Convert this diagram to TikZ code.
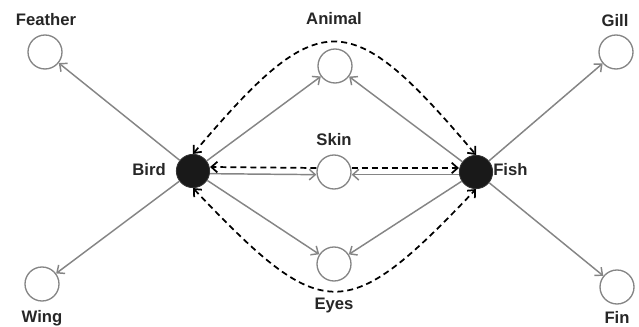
\documentclass[tikz,border=0pt]{standalone}
\usepackage{fontspec}
\setmainfont{Liberation Sans}
\usetikzlibrary{arrows.meta,calc}
\definecolor{lgray}{HTML}{858585}
\begin{document}
\begin{tikzpicture}[x=0.75pt,y=-0.75pt,
  leaf/.style={circle,draw=lgray,line width=1pt,fill=white,minimum size=25.5pt,inner sep=0pt},
  hub/.style={circle,draw=black!80,fill=black!90,line width=0.6pt,minimum size=25pt,inner sep=0pt},
  lbl/.style={font=\fontsize{12.5}{14}\selectfont\bfseries,text=black!85,inner sep=0pt},
  rel/.style={draw=lgray,line width=1.1pt,-{Straight Barb[length=4.5pt,width=8pt]}},
  sim/.style={draw=black,line width=1.3pt,dash pattern=on 4.5pt off 3pt},
  simarr/.style={sim,-{Straight Barb[length=4.5pt,width=8pt]}},
  simboth/.style={sim,{Straight Barb[length=4.5pt,width=8pt]}-{Straight Barb[length=4.5pt,width=8pt]}}]
\useasboundingbox (0,0) rectangle (639,327);
% nodes
\node[hub] (bird) at (193,171) {};
\node[hub] (fish) at (476,172) {};
\node[leaf] (animal) at (335,66) {};
\node[leaf] (skin) at (334,172) {};
\node[leaf] (eyes) at (334,264) {};
\node[leaf] (feather) at (45,52) {};
\node[leaf] (wing) at (42,284) {};
\node[leaf] (gill) at (616,52) {};
\node[leaf] (fin) at (617,287) {};
% labels
\node[lbl] (lfeather) at (46,20) {Feather};
\node[lbl] (lwing) at (42,318) {Wing};
\node[lbl] (lgill) at (615,21) {Gill};
\node[lbl] (lfin) at (617,317) {Fin};
\node[lbl] (lanimal) at (334,19) {Animal};
\node[lbl] (lskin) at (334,140) {Skin};
\node[lbl] (leyes) at (334,305) {Eyes};
\node[lbl,anchor=east] (lbird) at (166,170) {Bird};
\node[lbl,anchor=west] (lfish) at (493,170) {Fish};
% solid relations
\draw[rel] (bird) -- (feather);
\draw[rel] (bird) -- (wing);
\draw[rel] (bird) -- (animal);
\draw[rel] (bird) -- (eyes);
\draw[rel] (fish) -- (gill);
\draw[rel] (fish) -- (fin);
\draw[rel] (fish) -- (animal);
\draw[rel] (fish) -- (eyes);
\draw[rel] ([yshift=-2pt]bird.east) -- ([yshift=-2pt]skin.west);
\draw[rel] ([yshift=-2pt]fish.west) -- ([yshift=-2pt]skin.east);
% dashed similarity
\draw[simarr] ([yshift=3pt]skin.west) -- ([yshift=3pt]bird.east);
\draw[simarr] ([yshift=3pt]skin.east) -- ([yshift=3pt]fish.west);
\draw[simboth] (bird.north) .. controls ($(bird.north)+(127,-150)$) and ($(fish.north)+(-127,-150)$) .. (fish.north);
\draw[simboth] (bird.south) .. controls ($(bird.south)+(130,137)$) and ($(fish.south)+(-130,137)$) .. (fish.south);
\end{tikzpicture}
\end{document}
